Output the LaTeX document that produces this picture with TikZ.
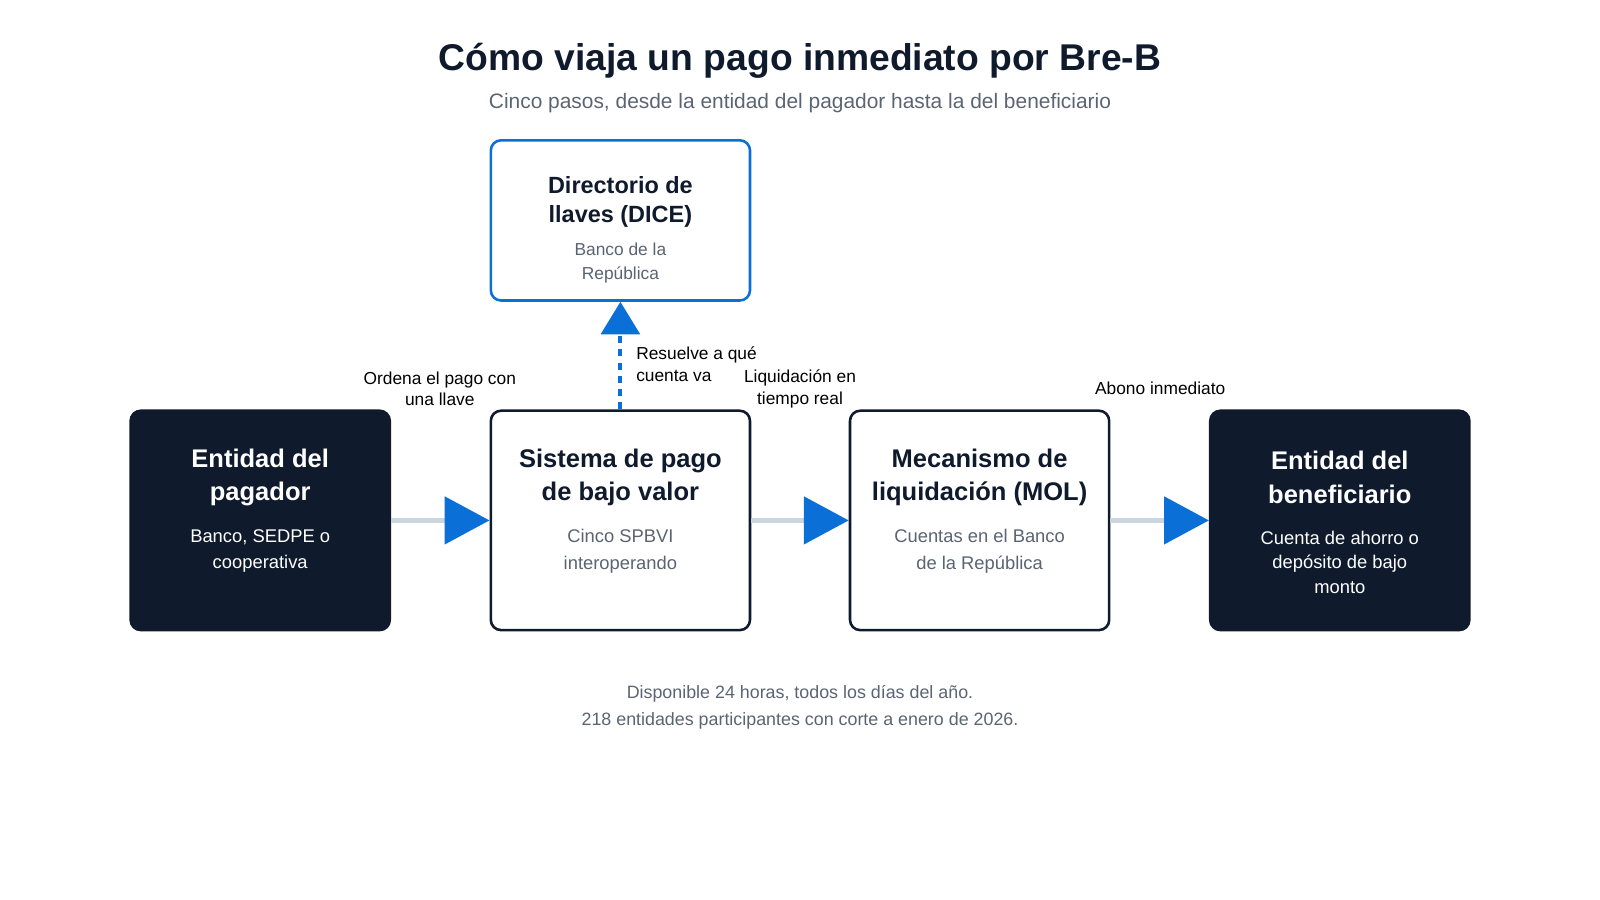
\documentclass[tikz,border=0pt]{standalone}
\usepackage{fontspec}
\setmainfont{Liberation Sans}
\usetikzlibrary{positioning,arrows.meta}
\definecolor{navy}{HTML}{0F1A2C}
\definecolor{flowblue}{HTML}{0B6FD8}
\definecolor{railgray}{HTML}{CBD5E0}
\definecolor{subgray}{HTML}{5A6472}
\begin{document}
\begin{tikzpicture}[x=1pt,y=-1pt,
  darkbox/.style={draw=navy,fill=navy,rounded corners=10pt,minimum width=254pt,minimum height=215pt,line width=2.5pt},
  lightbox/.style={draw=navy,fill=white,rounded corners=10pt,minimum width=254pt,minimum height=215pt,line width=2.5pt},
  keybox/.style={draw=flowblue,fill=white,rounded corners=10pt,minimum width=254pt,minimum height=157pt,line width=2.5pt},
  flow/.style={draw=railgray,line width=5pt,-{Triangle[length=44pt,width=46pt,color=flowblue]}},
  tag/.style={align=center,font=\fontsize{17}{21}\selectfont}]
  \useasboundingbox (0,0) rectangle (1568,882);
  % titles
  \node (title) at (784,60) {\fontsize{36.5}{40}\selectfont\bfseries\color{navy}Cómo viaja un pago inmediato por Bre-B};
  \node (sub) at (784,101) {\fontsize{20.5}{24}\selectfont\color{subgray}Cinco pasos, desde la entidad del pagador hasta la del beneficiario};
  % boxes
  \node[darkbox] (payer) at (255,510) {};
  \node[lightbox] (spbvi) at (608,510) {};
  \node[lightbox] (mol) at (960,510) {};
  \node[darkbox] (payee) at (1313,510) {};
  \node[keybox] (dice) at (608,216) {};
  % box texts
  \node[align=center,text=white,font=\fontsize{25}{33}\selectfont\bfseries] at (255,468) {Entidad del\\pagador};
  \node[align=center,text=white,font=\fontsize{18}{26}\selectfont] at (255,540) {Banco, SEDPE o\\cooperativa};
  \node[align=center,text=navy,font=\fontsize{25}{33}\selectfont\bfseries] at (608,468) {Sistema de pago\\de bajo valor};
  \node[align=center,text=subgray,font=\fontsize{18}{26}\selectfont] at (608,540) {Cinco SPBVI\\interoperando};
  \node[align=center,text=navy,font=\fontsize{25}{33}\selectfont\bfseries] at (960,468) {Mecanismo de\\liquidación (MOL)};
  \node[align=center,text=subgray,font=\fontsize{18}{26}\selectfont] at (960,540) {Cuentas en el Banco\\de la República};
  \node[align=center,text=white,font=\fontsize{25}{33}\selectfont\bfseries] at (1313,468) {Entidad del\\beneficiario};
  \node[align=center,text=white,font=\fontsize{18}{24}\selectfont] at (1313,551) {Cuenta de ahorro o\\depósito de bajo\\monto};
  \node[align=center,text=navy,font=\fontsize{23}{29}\selectfont\bfseries] at (608,198) {Directorio de\\llaves (DICE)};
  \node[align=center,text=subgray,font=\fontsize{17}{24}\selectfont] at (608,258) {Banco de la\\República};
  % connectors
  \draw[flow] (payer) -- (spbvi);
  \draw[flow] (spbvi) -- (mol);
  \draw[flow] (mol) -- (payee);
  \draw[flowblue,line width=4pt,dash pattern=on 7pt off 6pt,-{Triangle[length=32pt,width=38pt]}] (spbvi) -- (dice);
  % labels
  \node[tag] at (431,381) {Ordena el pago con\\una llave};
  \node[tag,align=left,anchor=west] at (620,357) {Resuelve a qué\\cuenta va};
  \node[tag] at (784,381) {Liquidación en\\tiempo real};
  \node[tag] at (1137,381) {Abono inmediato};
  % footer
  \node[tag,text=subgray,font=\fontsize{17.5}{27}\selectfont] at (784,693) {Disponible 24 horas, todos los días del año.\\218 entidades participantes con corte a enero de 2026.};
\end{tikzpicture}
\end{document}
